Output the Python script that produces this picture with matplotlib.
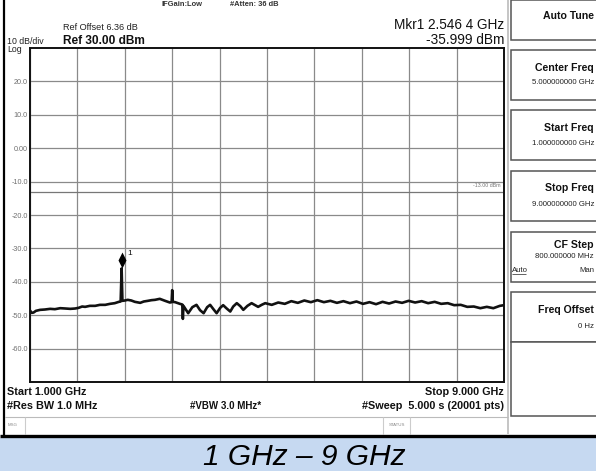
import matplotlib
matplotlib.use("Agg")
import matplotlib.pyplot as plt
from matplotlib.lines import Line2D
from matplotlib.patches import Rectangle
from matplotlib.path import Path

plt.rcParams['font.family'] = ['Liberation Sans', 'DejaVu Sans']

W, H = 596, 471

# ---- measurement data ----
freq_ghz = [1.00, 1.03, 1.06, 1.10, 1.17, 1.25, 1.34, 1.42, 1.51, 1.60, 1.68, 1.76,
            1.82, 1.88, 1.93, 2.01, 2.10, 2.18, 2.27, 2.35, 2.43, 2.50, 2.53, 2.5464,
            2.56, 2.60, 2.65, 2.71, 2.77, 2.86, 2.92, 2.99, 3.05, 3.11, 3.19, 3.28,
            3.36, 3.39, 3.40, 3.41, 3.45, 3.53, 3.57, 3.58, 3.59, 3.67, 3.74, 3.81,
            3.87, 3.93, 3.99, 4.04, 4.10, 4.15, 4.21, 4.26, 4.32, 4.38, 4.43, 4.49,
            4.55, 4.60, 4.67, 4.74, 4.80, 4.85, 4.91, 4.97, 5.08, 5.19, 5.30, 5.41,
            5.52, 5.63, 5.74, 5.85, 5.96, 6.07, 6.18, 6.29, 6.40, 6.51, 6.62, 6.73,
            6.84, 6.95, 7.06, 7.17, 7.28, 7.39, 7.50, 7.61, 7.72, 7.83, 7.94, 8.05,
            8.16, 8.27, 8.38, 8.49, 8.60, 8.71, 8.82, 8.93, 9.00]
level_dbm = [-48.6, -49.3, -49.2, -48.7, -48.4, -48.3, -48.1, -48.2, -47.9, -48.0, -48.1, -48.0,
             -47.8, -47.4, -47.5, -47.2, -47.2, -46.9, -46.9, -46.6, -46.4, -46.0, -45.9, -35.999,
             -45.7, -45.6, -45.4, -45.6, -46.0, -46.3, -45.9, -45.7, -45.5, -45.4, -45.1, -45.7,
             -46.2, -46.1, -42.5, -46.0, -46.1, -46.6, -46.8, -51.1, -47.2, -49.4, -47.6, -46.9,
             -48.5, -49.4, -47.6, -46.9, -48.3, -49.4, -47.8, -47.0, -48.0, -48.9, -47.4, -46.4,
             -47.3, -48.4, -47.2, -46.4, -47.0, -47.5, -46.9, -46.4, -46.9, -46.2, -46.6, -45.8,
             -46.3, -45.6, -46.1, -45.5, -46.1, -45.7, -46.3, -45.8, -46.4, -45.9, -46.6, -46.1,
             -46.7, -46.0, -46.5, -45.9, -46.3, -45.7, -46.2, -45.8, -46.4, -46.0, -46.6, -46.4,
             -47.0, -46.9, -47.5, -47.4, -47.9, -47.5, -47.9, -47.2, -47.0]

start_ghz, stop_ghz = 1.0, 9.0
ref_level, db_per_div, n_div = 30.0, 10.0, 10
limit_dbm = -13.0
marker_freq, marker_level = 2.5464, -35.999
ytick_vals = [20, 10, 0, -10, -20, -30, -40, -50, -60]
ytick_text = ["20.0", "10.0", "0.00", "-10.0", "-20.0", "-30.0", "-40.0", "-50.0", "-60.0"]

# label, value line, box top, box bottom, label offset, value offset
softkeys = [
    ("Auto Tune", None, 0, 40, 16, 0),
    ("Center Freq", "5.000000000 GHz", 50, 100, 18, 33),
    ("Start Freq", "1.000000000 GHz", 110, 160, 18, 34),
    ("Stop Freq", "9.000000000 GHz", 171, 221, 17, 34),
    ("CF Step", "800.000000 MHz", 232, 282, 13, 25),
    ("Freq Offset", "0 Hz", 292, 342, 18, 35),
    ("", None, 342, 416, 0, 0),
]


def fx(x):
    return x / W


def fy(y):
    return 1 - y / H


fig = plt.figure(figsize=(W / 100, H / 100), dpi=100)
fig.patch.set_facecolor("white")


def hline(y, x0, x1, color, lw):
    fig.add_artist(Line2D([fx(x0), fx(x1)], [fy(y), fy(y)], color=color, lw=lw,
                          transform=fig.transFigure, solid_capstyle="butt"))


def vline(x, y0, y1, color, lw):
    fig.add_artist(Line2D([fx(x), fx(x)], [fy(y0), fy(y1)], color=color, lw=lw,
                          transform=fig.transFigure, solid_capstyle="butt"))


def text(x, y, s, **kw):
    fig.text(fx(x), fy(y), s, **kw)


# ---- trace display ----
px_l, px_r, px_t, px_b = 30, 504, 48, 382
ax = fig.add_axes([fx(px_l), fy(px_b), (px_r - px_l) / W, (px_b - px_t) / H])
ax.set_xlim(start_ghz, stop_ghz)
ax.set_ylim(ref_level - n_div * db_per_div, ref_level)
step = (stop_ghz - start_ghz) / n_div
ax.set_xticks([start_ghz + i * step for i in range(n_div + 1)])
ax.set_xticklabels([])
ax.set_yticks(ytick_vals)
ax.set_yticklabels(ytick_text)
ax.tick_params(axis="both", length=0, pad=1.5)
ax.tick_params(axis="y", labelsize=5.2, labelcolor="#707070")
ax.grid(True, color="#8a8a8a", lw=0.9)
ax.set_axisbelow(True)
for sp in ax.spines.values():
    sp.set_color("#111111")
    sp.set_linewidth(1.4)

ax.axhline(limit_dbm, color="#777777", lw=0.9)
ax.text(stop_ghz - 0.06, limit_dbm + 1.2, "-13.00 dBm", fontsize=3.8, color="#777777",
        ha="right", va="bottom")

ax.plot(freq_ghz, level_dbm, color="#111111", lw=1.9, solid_joinstyle="round")

diamond = Path([(0, 0), (0.5, 1), (0, 2), (-0.5, 1), (0, 0)],
               [Path.MOVETO, Path.LINETO, Path.LINETO, Path.LINETO, Path.CLOSEPOLY])
ax.plot([marker_freq], [marker_level], marker=diamond, markersize=23, color="#000000",
        markeredgewidth=0)
ax.annotate("1", (marker_freq, marker_level), xytext=(4, 8), textcoords="offset points",
            fontsize=6, color="#111111", ha="left", va="bottom")

# ---- header text ----
text(161, 5, "IFGain:Low", fontsize=5.4, color="#333333", va="center", weight="bold")
text(230, 5, "#Atten: 36 dB", fontsize=5.4, color="#333333", va="center", weight="bold")
text(63, 28, "Ref Offset 6.36 dB", fontsize=6.6, color="#222222", va="center")
text(63, 41, "Ref 30.00 dBm", fontsize=8.6, color="#111111", va="center", weight="bold")
text(7, 42, "10 dB/div", fontsize=6.3, color="#222222", va="center")
text(7, 50, "Log", fontsize=6.3, color="#222222", va="center")
text(504, 25, "Mkr1 2.546 4 GHz", fontsize=9.8, color="#111111", va="center", ha="right")
text(504, 40, f"{marker_level:.3f} dBm", fontsize=9.8, color="#111111", va="center", ha="right")

# ---- footer text ----
text(7, 392, "Start 1.000 GHz", fontsize=7.8, weight="bold", color="#111111", va="center")
text(7, 406, "#Res BW 1.0 MHz", fontsize=7.8, weight="bold", color="#111111", va="center")
text(190, 406, "#VBW 3.0 MHz*", fontsize=7.0, weight="bold", color="#111111", va="center")
text(504, 392, "Stop 9.000 GHz", fontsize=7.8, weight="bold", color="#111111", va="center", ha="right")
text(504, 406, "#Sweep  5.000 s (20001 pts)", fontsize=7.8, weight="bold", color="#111111",
     va="center", ha="right")

# status bar
hline(416.5, 5, 508, "#bbbbbb", 0.8)
vline(25, 417, 434, "#cccccc", 0.8)
vline(383, 417, 434, "#cccccc", 0.8)
vline(410, 417, 434, "#cccccc", 0.8)
text(8, 425, "MSG", fontsize=3.2, color="#888888", va="center")
text(396.5, 425, "STATUS", fontsize=3.2, color="#888888", va="center", ha="center")

# ---- softkey panel ----
vline(508, 0, 434, "#bbbbbb", 1.2)
for label, value, y0, y1, dl, dv in softkeys:
    fig.add_artist(Rectangle((fx(510.5), fy(y1)), (W + 5 - 510.5) / W, (y1 - y0) / H,
                             transform=fig.transFigure, facecolor="white",
                             edgecolor="#555555", lw=1.1))
    if label:
        text(594, y0 + dl, label, fontsize=7.6, weight="bold", color="#111111",
             va="center", ha="right")
    if value:
        text(594, y0 + dv, value, fontsize=5.6, color="#222222", va="center", ha="right")
text(512, 270, "Auto", fontsize=5.6, color="#222222", va="center", ha="left")
hline(273.5, 512, 526, "#222222", 0.5)
text(594, 270, "Man", fontsize=5.6, color="#222222", va="center", ha="right")

# ---- frame and caption band ----
vline(4.3, 0, 437, "#000000", 1.6)
hline(435.8, 0, W, "#000000", 2.4)
fig.add_artist(Rectangle((0, 0), 1, (H - 437.5) / H, transform=fig.transFigure,
                         facecolor="#c6d9f1", edgecolor="none"))
text(W / 2 + 6, 457, "1 GHz \u2013 9 GHz", fontsize=21.5, style="italic", color="#000000",
     va="center", ha="center")

fig.savefig("out.png", dpi=100)
